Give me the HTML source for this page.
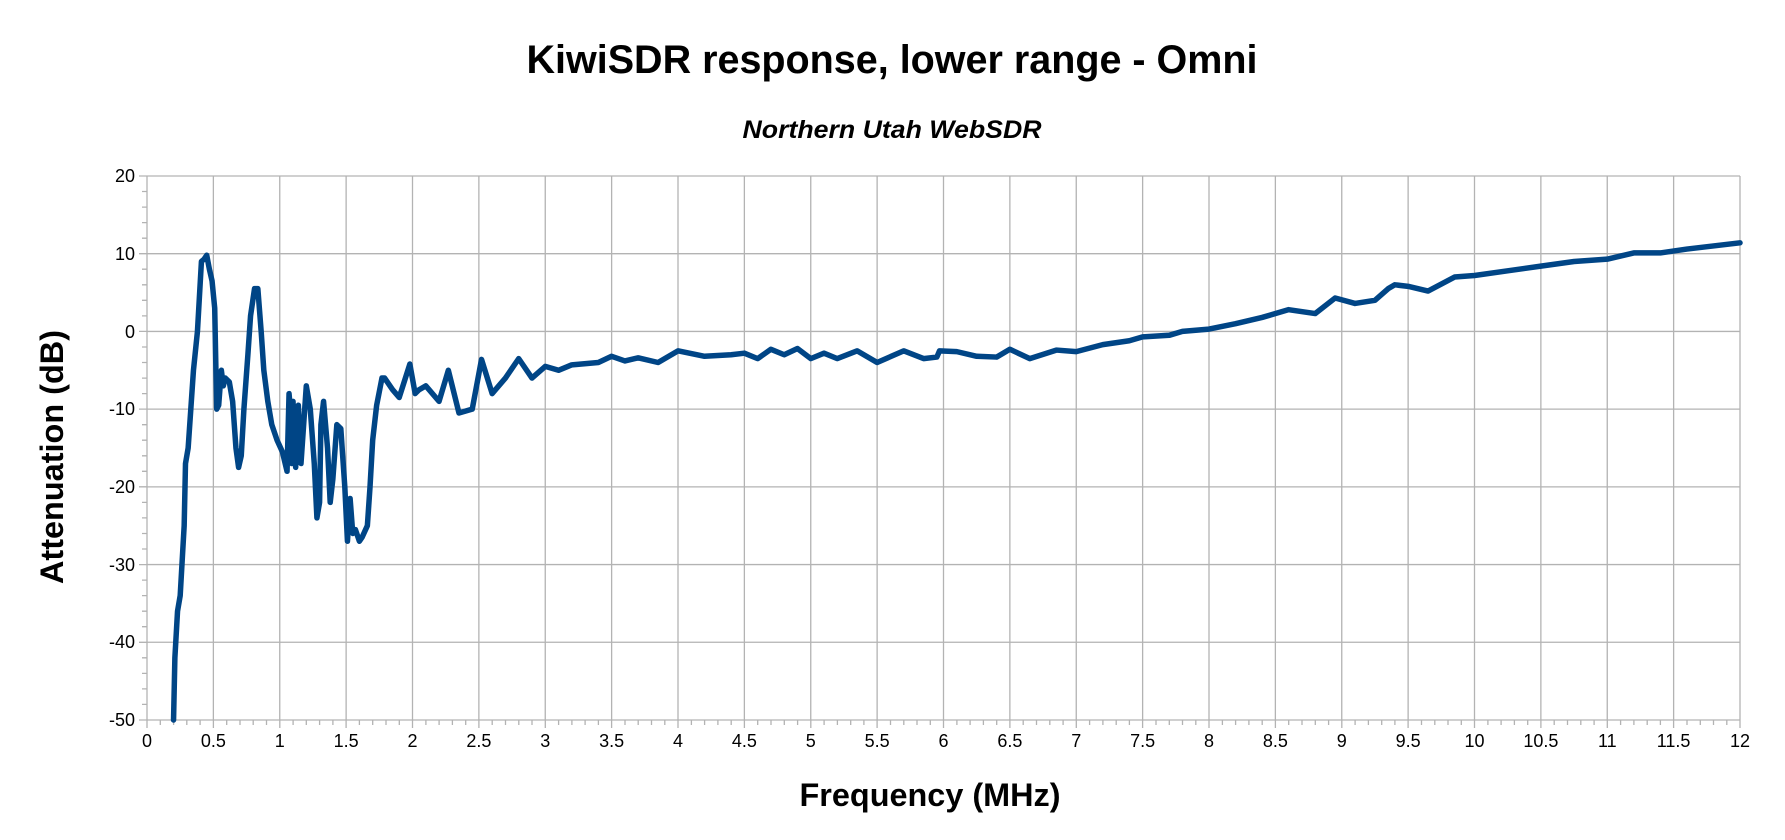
<!DOCTYPE html>
<html><head><meta charset="utf-8"><style>
html,body{margin:0;padding:0;background:#fff;}
svg{display:block;font-family:"Liberation Sans",sans-serif;}
</style></head><body>
<svg width="1785" height="840" viewBox="0 0 1785 840" xmlns="http://www.w3.org/2000/svg">
<rect width="1785" height="840" fill="#fff"/>
<text x="892" y="73" font-size="40" font-weight="bold" text-anchor="middle" textLength="731" lengthAdjust="spacingAndGlyphs">KiwiSDR response, lower range - Omni</text>
<text x="892" y="138" font-size="25" font-weight="bold" font-style="italic" text-anchor="middle" textLength="299" lengthAdjust="spacingAndGlyphs">Northern Utah WebSDR</text>
<text x="930" y="806" font-size="32" font-weight="bold" text-anchor="middle" textLength="261" lengthAdjust="spacingAndGlyphs">Frequency (MHz)</text>
<text transform="translate(63,457) rotate(-90)" font-size="32" font-weight="bold" text-anchor="middle" textLength="254" lengthAdjust="spacingAndGlyphs">Attenuation (dB)</text>
<g transform="translate(147,331.42) scale(132.75,-7.771)" stroke="#b3b3b3" fill="none">
<path vector-effect="non-scaling-stroke" stroke-width="1.3" d="M0,20H12M0,10H12M0,0H12M0,-10H12M0,-20H12M0,-30H12M0,-40H12M0,-50H12
M0,20V-50M0.5,20V-50M1,20V-50M1.5,20V-50M2,20V-50M2.5,20V-50M3,20V-50M3.5,20V-50M4,20V-50M4.5,20V-50M5,20V-50M5.5,20V-50M6,20V-50M6.5,20V-50M7,20V-50M7.5,20V-50M8,20V-50M8.5,20V-50M9,20V-50M9.5,20V-50M10,20V-50M10.5,20V-50M11,20V-50M11.5,20V-50M12,20V-50"/>
</g>
<path stroke="#b3b3b3" stroke-width="1.3" fill="none" d="
M139,176H147M142,191.5H147M142,207.1H147M142,222.6H147M142,238.2H147
M139,253.7H147M142,269.2H147M142,284.8H147M142,300.3H147M142,315.9H147
M139,331.4H147M142,347H147M142,362.5H147M142,378.1H147M142,393.6H147
M139,409.1H147M142,424.7H147M142,440.2H147M142,455.8H147M142,471.3H147
M139,486.8H147M142,502.4H147M142,517.9H147M142,533.5H147M142,549H147
M139,564.6H147M142,580.1H147M142,595.6H147M142,611.2H147M142,626.7H147
M139,642.3H147M142,657.8H147M142,673.4H147M142,688.9H147M142,704.4H147M139,720H147
M160.3,720v5M173.6,720v5M186.8,720v5M200.1,720v5M226.7,720v5M240,720v5M253.2,720v5M266.5,720v5
M293.1,720v5M306.3,720v5M319.6,720v5M332.9,720v5M359.4,720v5M372.7,720v5M386,720v5M399.3,720v5
M425.9,720v5M439.1,720v5M452.4,720v5M465.7,720v5M492.2,720v5M505.5,720v5M518.8,720v5M532,720v5
M558.6,720v5M571.9,720v5M585.1,720v5M598.4,720v5M625,720v5M638.2,720v5M651.5,720v5M664.8,720v5
M691.4,720v5M704.6,720v5M717.9,720v5M731.2,720v5M757.7,720v5M771,720v5M784.3,720v5M797.6,720v5
M824.1,720v5M837.4,720v5M850.7,720v5M863.9,720v5M890.5,720v5M903.8,720v5M917,720v5M930.3,720v5
M956.9,720v5M970.1,720v5M983.4,720v5M996.7,720v5M1023.2,720v5M1036.5,720v5M1049.8,720v5M1063.1,720v5
M1089.6,720v5M1102.9,720v5M1116.2,720v5M1129.4,720v5M1156,720v5M1169.3,720v5M1182.5,720v5M1195.8,720v5
M1222.4,720v5M1235.6,720v5M1248.9,720v5M1262.2,720v5M1288.7,720v5M1302,720v5M1315.3,720v5M1328.6,720v5
M1355.1,720v5M1368.4,720v5M1381.7,720v5M1394.9,720v5M1421.5,720v5M1434.8,720v5M1448,720v5M1461.3,720v5
M1487.9,720v5M1501.1,720v5M1514.4,720v5M1527.7,720v5M1554.2,720v5M1567.5,720v5M1580.8,720v5M1594.1,720v5
M1620.6,720v5M1633.9,720v5M1647.2,720v5M1660.4,720v5M1687,720v5M1700.3,720v5M1713.5,720v5M1726.8,720v5
M147,720v8M213.4,720v8M279.8,720v8M346.1,720v8M412.5,720v8M478.9,720v8M545.3,720v8M611.6,720v8M678,720v8M744.4,720v8M810.8,720v8M877.1,720v8M943.5,720v8M1009.9,720v8M1076.3,720v8M1142.6,720v8M1209,720v8M1275.4,720v8M1341.8,720v8M1408.1,720v8M1474.5,720v8M1540.9,720v8M1607.3,720v8M1673.6,720v8M1740,720v8"/>
<g font-size="18" text-anchor="end" fill="#000">
<text x="135" y="182">20</text><text x="135" y="260">10</text><text x="135" y="338">0</text><text x="135" y="415">-10</text><text x="135" y="493">-20</text><text x="135" y="571">-30</text><text x="135" y="648">-40</text><text x="135" y="726">-50</text>
</g>
<g font-size="18" text-anchor="middle" fill="#000">
<text x="147" y="747">0</text><text x="213.4" y="747">0.5</text><text x="279.8" y="747">1</text><text x="346.1" y="747">1.5</text><text x="412.5" y="747">2</text><text x="478.9" y="747">2.5</text><text x="545.3" y="747">3</text><text x="611.6" y="747">3.5</text><text x="678" y="747">4</text><text x="744.4" y="747">4.5</text><text x="810.8" y="747">5</text><text x="877.1" y="747">5.5</text><text x="943.5" y="747">6</text><text x="1009.9" y="747">6.5</text><text x="1076.3" y="747">7</text><text x="1142.6" y="747">7.5</text><text x="1209" y="747">8</text><text x="1275.4" y="747">8.5</text><text x="1341.8" y="747">9</text><text x="1408.1" y="747">9.5</text><text x="1474.5" y="747">10</text><text x="1540.9" y="747">10.5</text><text x="1607.3" y="747">11</text><text x="1673.6" y="747">11.5</text><text x="1740" y="747">12</text>
</g>
<g transform="translate(147,331.42) scale(132.75,-7.771)">
<path vector-effect="non-scaling-stroke" fill="none" stroke="#004586" stroke-width="5.5" stroke-linejoin="round" stroke-linecap="round" d="M0.20,-50L0.21,-42L0.23,-36L0.25,-34L0.27,-28L0.28,-25L0.29,-17L0.31,-15L0.33,-10L0.35,-5L0.38,0L0.40,6L0.41,9L0.43,9.3L0.45,9.8L0.47,8L0.49,6.5L0.51,3L0.525,-10L0.54,-9.5L0.56,-5L0.575,-7L0.59,-6L0.62,-6.5L0.645,-9L0.67,-15L0.69,-17.5L0.71,-16L0.73,-10L0.76,-3L0.78,2L0.81,5.5L0.835,5.5L0.86,0L0.88,-5L0.91,-9L0.94,-12L0.98,-14L1.02,-15.5L1.055,-18L1.07,-8L1.08,-10L1.09,-17L1.1,-9L1.12,-17.5L1.14,-9.5L1.16,-17L1.2,-7L1.23,-10L1.26,-17L1.28,-24L1.30,-22L1.31,-12L1.33,-9L1.36,-15L1.38,-22L1.40,-19L1.43,-12L1.46,-12.5L1.49,-20L1.51,-27L1.53,-21.5L1.55,-26L1.57,-25.5L1.60,-27L1.62,-26.5L1.66,-25L1.68,-20L1.70,-14L1.73,-9.5L1.77,-6L1.79,-6L1.85,-7.5L1.9,-8.5L1.98,-4.2L2.02,-8L2.05,-7.5L2.1,-7L2.2,-9L2.27,-5L2.35,-10.5L2.45,-10L2.52,-3.6L2.6,-8L2.7,-6L2.8,-3.5L2.9,-6L3.0,-4.5L3.1,-5L3.2,-4.3L3.4,-4L3.5,-3.2L3.6,-3.8L3.7,-3.4L3.85,-4L4.0,-2.5L4.2,-3.2L4.4,-3L4.5,-2.8L4.6,-3.5L4.7,-2.3L4.8,-3L4.9,-2.2L5.0,-3.5L5.1,-2.8L5.2,-3.5L5.35,-2.5L5.5,-4L5.7,-2.5L5.85,-3.5L5.95,-3.3L5.97,-2.5L6.1,-2.6L6.25,-3.2L6.4,-3.3L6.5,-2.3L6.65,-3.5L6.85,-2.4L7.0,-2.6L7.2,-1.7L7.4,-1.2L7.5,-0.7L7.7,-0.5L7.8,0L8.0,0.3L8.2,1L8.4,1.8L8.6,2.8L8.8,2.3L8.95,4.3L9.1,3.6L9.25,4L9.35,5.5L9.4,6L9.5,5.8L9.65,5.2L9.85,7L10.0,7.2L10.25,7.8L10.5,8.4L10.75,9L11.0,9.3L11.2,10.1L11.4,10.1L11.6,10.6L12,11.4"/>
</g>
</svg>
</body></html>
